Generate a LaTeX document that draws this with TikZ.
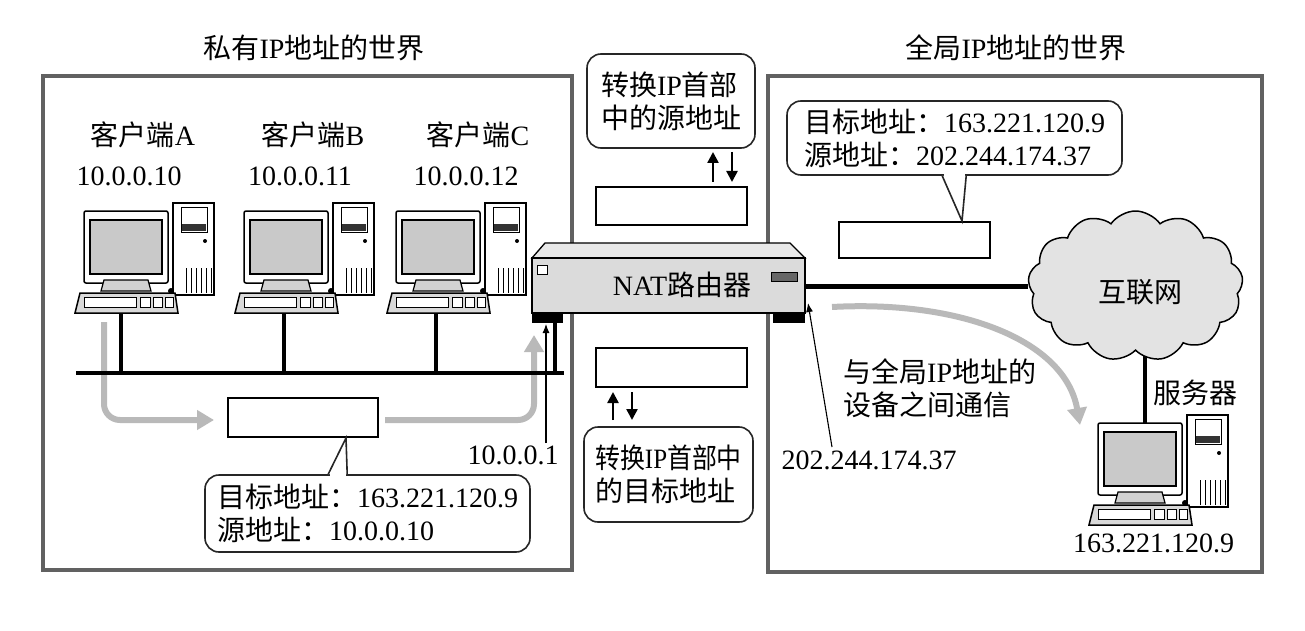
\documentclass[tikz,border=0pt]{standalone}
\usepackage{fontspec}
\usepackage{graphicx}
\setmainfont{Liberation Serif}
\newfontfamily\cjk{Noto Sans CJK SC}
\usetikzlibrary{arrows.meta,shapes.symbols,calc}
\newcommand\zh[1]{{\cjk #1}}
\tikzset{
  world/.style={draw=black!62, line width=4pt},
  packet/.style={draw=black, line width=2pt, fill=white},
  bubble/.style={draw=black!85, line width=1.6pt, rounded corners=14pt, fill=white, align=left},
  ptr/.style={draw=black!85, line width=1.6pt, fill=white, line join=miter},
  lan/.style={line width=4.5pt, black},
  flow/.style={draw=gray!55, line width=6pt, -{Triangle[length=17pt,width=19pt]}},
  thinarrow/.style={line width=1.1pt, -{Latex[length=9pt,width=7pt]}},
  xarrow/.style={line width=2.4pt, -{Triangle[length=11pt,width=11pt]}},
  txt/.style={inner sep=0pt, font=\fontsize{28}{33}\selectfont},
  pc/.pic={
    \draw[line width=1.5pt, fill=white] (89,-8) rectangle (130,84);
    \draw[line width=1pt] (97,-4) rectangle (123,21);
    \fill[black!80] (98,13) rectangle (122,20);
    \fill (121,30) circle (2);
    \foreach \vx in {102,107,...,127} \draw[line width=0.8pt] (\vx,57) -- (\vx,82);
    \draw[line width=1.5pt, fill=white, rounded corners=2pt] (0,0) rectangle (84,72);
    \draw[line width=2.6pt, fill=gray!42] (6,9) rectangle (78,63);
    \draw[line width=1.2pt, fill=gray!35] (20,69) -- (64,69) -- (67,80) -- (17,80) -- cycle;
    \fill (87,80) circle (3);
    \draw[line width=1.5pt, fill=gray!30] (-4,82) -- (91,82) -- (94,102) -- (-9,102) -- cycle;
    \draw[line width=0.8pt, fill=white] (0,86) rectangle (52,96);
    \draw[line width=0.8pt, fill=white] (56,86) rectangle (66,96);
    \draw[line width=0.8pt, fill=white] (69,86) rectangle (78,96);
    \draw[line width=0.8pt, fill=white] (81,86) rectangle (89,96);
  }
}
\begin{document}
\begin{tikzpicture}[x=1pt,y=-1pt]
\fill[white] (0,0) rectangle (1305,631);
\useasboundingbox (0,0) rectangle (1305,631);

% worlds
\node[world, minimum width=529, minimum height=494] (priv) at (307.5,323) {};
\node[world, minimum width=494, minimum height=496] (glob) at (1015,324) {};
\node[txt] (tpriv) at (314,48) {\zh{私有}IP\zh{地址的世界}};
\node[txt] (tglob) at (1016,48) {\zh{全局}IP\zh{地址的世界}};

% gray flows (under the LAN)
\draw[flow, rounded corners=16pt] (104,322) |- (214,420);
\draw[flow, rounded corners=16pt] (385,420) -| (534,335);
\draw[flow] (832,307) .. controls (960,300) and (1065,340) .. (1080,425);

% LAN
\coordinate (busL) at (76,373);
\coordinate (busR) at (564,373);
\draw[lan] (busL) -- (busR);
\draw[lan] (121,313) -- (121,373);
\draw[lan] (284,313) -- (284,373);
\draw[lan] (436,313) -- (436,373);
\draw[lan] (555,323) -- (555,373);

% clients
\pic at (84,211) {pc};
\pic at (244,211) {pc};
\pic at (396,211) {pc};
\node[txt] (ca) at (143,135) {\zh{客户端}A};
\node[txt] (cb) at (313,135) {\zh{客户端}B};
\node[txt] (cc) at (478,135) {\zh{客户端}C};
\node[txt] (ia) at (129,176) {10.0.0.10};
\node[txt] (ib) at (300,176) {10.0.0.11};
\node[txt] (ic) at (466,176) {10.0.0.12};

% router
\filldraw[line width=1.3pt, fill=gray!18] (545,243) -- (790,243) -- (805,258) -- (532,258) -- cycle;
\node[draw, line width=1.3pt, fill=gray!28, minimum width=273, minimum height=55, inner sep=0pt] (nat) at (668.5,285.5) {};
\node[txt] (natl) at (682,285) {NAT\zh{路由器}};
\draw[fill=white, line width=1pt] (537,265) rectangle (547,274);
\draw[fill=black!60, line width=1pt] (771,272) rectangle (797,281);
\fill (532,313) rectangle (563,323);
\fill (773,313) rectangle (805,323);
\coordinate (footL) at (546,324);
\coordinate (footR) at (808,303);

% internet
\draw[line width=4.5pt] (1145,340) -- (1145,423);
\node[cloud, cloud puffs=13, cloud puff arc=110, aspect=1.45, draw, line width=1.5pt, fill=gray!22,
      minimum width=215, minimum height=150, inner sep=0pt] (cloud) at (1135.5,286) {};
\node[txt] (inet) at (1140,292) {\zh{互联网}};
\draw[line width=5pt] (nat.east |- cloud.west) -- (cloud.west);

% server
\pic at (1098,423) {pc};
\node[txt] (srv) at (1195.5,393) {\zh{服务器}};
\node[txt] (srvip) at (1153.5,543) {163.221.120.9};

% packets
\node[packet, minimum width=150, minimum height=39] (pk1) at (303,417.5) {};
\node[packet, minimum width=151, minimum height=38] (pk2) at (671.5,206) {};
\node[packet, minimum width=151, minimum height=39] (pk3) at (671.5,367.5) {};
\node[packet, minimum width=151, minimum height=36] (pk4) at (914.5,240) {};

% bubbles
\node[bubble, txt, minimum width=325, minimum height=77] (b1) at (367.5,513.5)
  {\zh{目标地址：}163.221.120.9\\\zh{源地址：}10.0.0.10};
\filldraw[ptr] ($(b1.north west)+(124,0)$) -- ($(pk1.south)+(43,0)$) -- ($(b1.north west)+(143,0)$);
\fill[white] ($(b1.north west)+(125.5,-2)$) rectangle ($(b1.north west)+(141.5,2.5)$);

\node[bubble, txt, minimum width=335, minimum height=74] (b2) at (954.5,138)
  {\zh{目标地址：}163.221.120.9\\\zh{源地址：}202.244.174.37};
\filldraw[ptr] ($(b2.south west)+(156,0)$) -- ($(pk4.north)+(47.5,0)$) -- ($(b2.south west)+(180,0)$);
\fill[white] ($(b2.south west)+(157.5,-2.5)$) rectangle ($(b2.south west)+(178.5,2)$);

\node[bubble, txt, minimum width=168, minimum height=94] (b3) at (671,101)
  {\zh{转换}IP\zh{首部}\\\zh{中的源地址}};
\node[bubble, txt, minimum width=169, minimum height=95] (b4) at (668.5,474.5)
  {\scalebox{0.89}[1]{\zh{转换}IP\zh{首部中}}\\\zh{的目标地址}};

% conversion arrows
\draw[xarrow] (713,182) -- (713,152);
\draw[xarrow] (732,152) -- (732,182);
\draw[xarrow] (613,420) -- (613,392);
\draw[xarrow] (632,392) -- (632,420);

% interface addresses
\node[txt] (ip1) at (513,455) {10.0.0.1};
\draw[thinarrow] (546,443) -- (footL);
\node[txt] (ip2) at (869,460) {202.244.174.37};
\draw[thinarrow] (832,447) -- (footR);

\node[txt, align=left, anchor=west] (comm) at (843,388.5) {\zh{与全局}IP\zh{地址的}\\\zh{设备之间通信}};
\end{tikzpicture}
\end{document}
